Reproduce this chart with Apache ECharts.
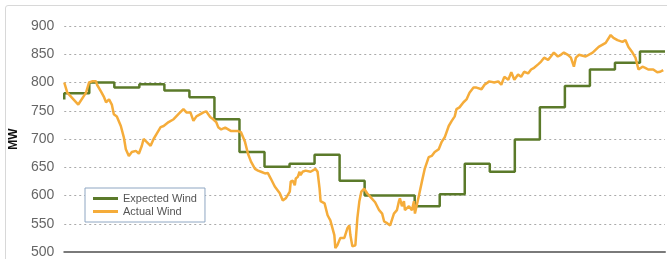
<!DOCTYPE html>
<html>
<head>
<meta charset="utf-8">
<script src="https://cdn.jsdelivr.net/npm/echarts@6/dist/echarts.min.js"></script>
<style>
  html, body { margin: 0; padding: 0; background: #fff; }
  #frame { position: absolute; left: 5px; top: 5px; width: 700px; height: 300px; border: 1px solid #d8d8d8; border-radius: 3px; }
  #chart-container { position: absolute; left: 0; top: 0; width: 667px; height: 259px; }
</style>
</head>
<body>
<div id="frame"></div>
<div id="chart-container"></div>
<script>
// hours of the day (0 = start) and MW values
var expectedHours = [0, 0, 1, 2, 3, 4, 5, 6, 7, 8, 9, 10, 11, 12, 13, 14, 15, 16, 17, 18, 19, 20, 21, 22, 23, 24];
var expectedMW = [770, 781, 800, 791, 797, 786, 774, 735, 677, 651, 656, 672, 626, 600, 600, 581, 602, 656, 642, 699, 756, 794, 823, 835, 855, 855];

var actualHours = [0.00, 0.12, 0.56, 0.87, 0.99, 1.11, 1.27, 1.31, 1.47, 1.59, 1.67, 1.79, 1.90, 1.98, 2.10, 2.26, 2.38, 2.46, 2.58, 2.70,
	2.86, 2.98, 3.10, 3.17, 3.29, 3.45, 3.57, 3.69, 3.85, 3.97, 4.17, 4.37, 4.56, 4.76, 4.88, 5.04, 5.16, 5.28, 5.44, 5.56,
	5.67, 5.83, 5.95, 6.07, 6.15, 6.27, 6.43, 6.55, 6.67, 6.94, 7.06, 7.22, 7.34, 7.46, 7.62, 7.74, 7.86, 8.02, 8.13, 8.25,
	8.41, 8.61, 8.73, 8.85, 9.01, 9.05, 9.13, 9.21, 9.25, 9.33, 9.40, 9.44, 9.52, 9.64, 9.84, 10.04, 10.12, 10.20, 10.24, 10.40,
	10.52, 10.63, 10.79, 10.83, 10.91, 11.03, 11.19, 11.31, 11.39, 11.43, 11.51, 11.63, 11.71, 11.79, 11.87, 11.98, 12.10, 12.22, 12.42, 12.58,
	12.70, 12.78, 12.90, 13.02, 13.17, 13.29, 13.37, 13.41, 13.49, 13.57, 13.61, 13.77, 13.89, 13.97, 14.01, 14.17, 14.29, 14.40, 14.56, 14.68,
	14.80, 14.96, 15.08, 15.20, 15.36, 15.48, 15.60, 15.67, 15.79, 15.95, 16.07, 16.19, 16.35, 16.47, 16.67, 16.79, 16.98, 17.18, 17.34, 17.46,
	17.58, 17.74, 17.86, 17.98, 18.13, 18.25, 18.37, 18.53, 18.65, 18.77, 18.93, 19.05, 19.17, 19.33, 19.44, 19.56, 19.72, 19.84, 19.96, 20.12,
	20.24, 20.36, 20.44, 20.56, 20.83, 21.11, 21.35, 21.63, 21.83, 21.94, 22.10, 22.30, 22.42, 22.54, 22.70, 22.82, 22.94, 23.10, 23.21, 23.33,
	23.53, 23.69, 23.81, 23.93];
var actualMW = [800, 782, 761, 782, 800, 802, 802, 796, 784, 774, 765, 770, 761, 744, 740, 723, 703, 682, 670, 677,
	679, 674, 688, 700, 695, 688, 700, 709, 721, 723, 730, 735, 744, 753, 747, 747, 732, 740, 744, 747,
	749, 739, 735, 730, 721, 717, 720, 717, 714, 714, 712, 695, 674, 660, 647, 644, 642, 639, 640, 630,
	616, 604, 591, 595, 607, 625, 626, 618, 630, 633, 642, 636, 642, 644, 642, 647, 642, 612, 590, 586,
	565, 556, 530, 507, 512, 525, 525, 542, 547, 530, 510, 512, 560, 590, 607, 612, 604, 598, 588, 574,
	568, 554, 551, 547, 568, 574, 590, 595, 581, 590, 574, 581, 574, 590, 568, 600, 625, 647, 668, 670,
	677, 682, 695, 703, 723, 732, 740, 753, 756, 765, 770, 782, 791, 791, 788, 796, 802, 800, 802, 796,
	810, 805, 818, 805, 814, 810, 819, 816, 823, 826, 832, 837, 844, 840, 846, 853, 846, 849, 853, 849,
	844, 828, 844, 849, 846, 853, 863, 870, 884, 879, 875, 872, 875, 863, 853, 844, 823, 828, 826, 823,
	823, 818, 819, 822];

var yTicks = [500, 550, 600, 650, 700, 750, 800, 850, 900];

function pairs(xs, ys) {
	var out = [];
	for (var i = 0; i < xs.length; i++) out.push([xs[i], ys[i]]);
	return out;
}

var chart = echarts.init(document.getElementById('chart-container'));
var option = {
	animation: false,
	grid: {
		left: 60,
		right: 2,
		top: 26,
		bottom: 5
	},
	legend: {
		orient: 'vertical',
		left: 85,
		top: 188,
		backgroundColor: '#fff',
		borderColor: '#8ea6c2',
		borderWidth: 1,
		padding: [5, 8, 5, 8],
		itemGap: 2,
		itemWidth: 25,
		itemHeight: 3,
		icon: 'rect',
		textStyle: {
			fontFamily: 'Liberation Sans',
			fontSize: 11,
			color: '#555'
		},
		data: ['Expected Wind', 'Actual Wind']
	},
	xAxis: {
		type: 'value',
		min: 0,
		max: 24,
		axisLine: { show: true, onZero: false, lineStyle: { color: '#7a7a7a', width: 2 } },
		axisTick: { show: false },
		axisLabel: { show: false },
		splitLine: { show: false }
	},
	yAxis: {
		type: 'value',
		min: yTicks[0],
		max: yTicks[yTicks.length - 1],
		interval: 50,
		name: 'MW',
		nameLocation: 'middle',
		nameRotate: 90,
		nameGap: 40,
		nameTextStyle: {
			fontFamily: 'Liberation Sans',
			fontWeight: 'bold',
			fontSize: 12,
			color: '#111'
		},
		axisLine: { show: false },
		axisTick: { show: false },
		axisLabel: {
			margin: 10,
			fontFamily: 'Liberation Sans',
			fontSize: 14,
			color: '#666'
		},
		splitLine: {
			show: true,
			lineStyle: { color: '#aaa', type: [2, 3], width: 1 }
		}
	},
	series: [
		{
			name: 'Expected Wind',
			type: 'line',
			step: 'end',
			symbol: 'none',
			data: pairs(expectedHours, expectedMW),
			color: '#5b7a2a',
			lineStyle: { width: 2.5, color: '#5b7a2a' },
			z: 2
		},
		{
			name: 'Actual Wind',
			type: 'line',
			symbol: 'none',
			data: pairs(actualHours, actualMW),
			color: '#f5ac3a',
			lineStyle: { width: 2.5, color: '#f5ac3a' },
			z: 3
		}
	]
};
chart.setOption(option);
</script>
</body>
</html>
